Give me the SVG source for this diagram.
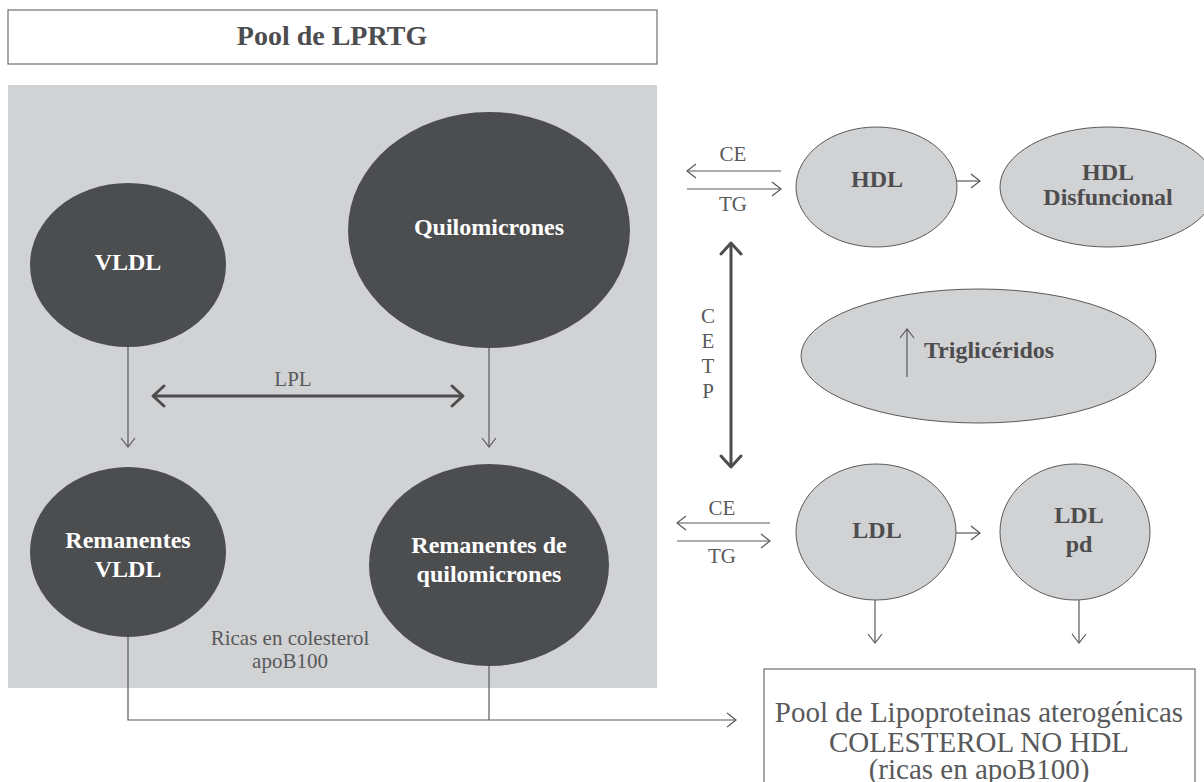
<svg xmlns="http://www.w3.org/2000/svg" width="1204" height="782" viewBox="0 0 1204 782">
<defs>
<style>
.lbl{font-family:"Liberation Serif","Times New Roman",serif;fill:#58595b;font-size:21px;text-anchor:middle}
.big{font-family:"Liberation Serif","Times New Roman",serif;fill:#58595b;font-size:29px;text-anchor:middle}
.b{font-family:"Liberation Serif","Times New Roman",serif;font-weight:bold;font-size:24px;text-anchor:middle;fill:#4d4d4f}
.w{fill:#ffffff}
.dark{fill:#4c4d4f}
.light{fill:#d1d2d4;stroke:#58595b;stroke-width:1}
.thin{stroke:#58595b;stroke-width:1.2;fill:none}
.thick{stroke:#4d4d4f;stroke-width:3;fill:none}
.box{fill:#ffffff;stroke:#6d6e70;stroke-width:1.2}
</style>
<marker id="ah" markerUnits="userSpaceOnUse" overflow="visible" orient="auto-start-reverse" markerWidth="20" markerHeight="20" refX="0" refY="0">
<path d="M-9,-7 L0,0 L-9,7" fill="none" stroke="#58595b" stroke-width="1.2"/>
</marker>
<marker id="ahb" markerUnits="userSpaceOnUse" overflow="visible" orient="auto-start-reverse" markerWidth="30" markerHeight="30" refX="0" refY="0">
<path d="M-11,-10 L0,0 L-11,10" fill="none" stroke="#4d4d4f" stroke-width="3" stroke-linecap="round" stroke-linejoin="round"/>
</marker>
</defs>
<rect x="0" y="0" width="1204" height="782" fill="#ffffff"/>

<g id="title">
<rect class="box" x="8" y="10" width="649" height="54"/>
<text class="b" x="332" y="45" style="font-size:28px">Pool de LPRTG</text>
</g>

<rect id="panel" x="8" y="85" width="649" height="603" fill="#d1d2d4"/>

<g id="vldl">
<ellipse class="dark" cx="128" cy="265" rx="98" ry="82"/>
<text class="b w" x="128" y="270">VLDL</text>
</g>
<g id="quilomicrones">
<ellipse class="dark" cx="489" cy="230" rx="141" ry="118"/>
<text class="b w" x="489" y="235">Quilomicrones</text>
</g>
<g id="rem-vldl">
<ellipse class="dark" cx="128" cy="552" rx="98" ry="85"/>
<text class="b w" x="128" y="548">Remanentes</text>
<text class="b w" x="128" y="577">VLDL</text>
</g>
<g id="rem-quilo">
<ellipse class="dark" cx="489" cy="565" rx="120" ry="101"/>
<text class="b w" x="489" y="553">Remanentes de</text>
<text class="b w" x="489" y="582">quilomicrones</text>
</g>
<g id="ricas">
<text class="lbl" x="290" y="645">Ricas en colesterol</text>
<text class="lbl" x="290" y="668">apoB100</text>
</g>

<g id="hdl">
<ellipse class="light" cx="876.5" cy="187" rx="80.5" ry="60"/>
<text class="b" x="877" y="187">HDL</text>
</g>
<g id="hdl-disf">
<ellipse class="light" cx="1108" cy="187" rx="108" ry="60"/>
<text class="b" x="1108" y="180">HDL</text>
<text class="b" x="1108" y="205">Disfuncional</text>
</g>
<g id="trig">
<ellipse class="light" cx="978.5" cy="356" rx="177.5" ry="67"/>
<text class="b" x="989" y="358">Triglicéridos</text>
</g>
<g id="ldl">
<ellipse class="light" cx="876" cy="532" rx="80" ry="68"/>
<text class="b" x="877" y="538">LDL</text>
</g>
<g id="ldl-pd">
<ellipse class="light" cx="1075" cy="532" rx="75" ry="68"/>
<text class="b" x="1079" y="523">LDL</text>
<text class="b" x="1079" y="552">pd</text>
</g>
<g id="pool-atero">
<rect class="box" x="764" y="669" width="431" height="140"/>
<text class="big" x="979" y="722">Pool de Lipoproteinas aterogénicas</text>
<text class="big" x="979" y="752">COLESTEROL NO HDL</text>
<text class="big" x="979" y="779">(ricas en apoB100)</text>
</g>

<g id="connectors">
<line class="thin" x1="128" y1="347" x2="128" y2="447" marker-end="url(#ah)"/>
<line class="thin" x1="489" y1="348" x2="489" y2="447" marker-end="url(#ah)"/>
<line class="thick" x1="153" y1="396" x2="463" y2="396" marker-start="url(#ahb)" marker-end="url(#ahb)"/>
<text class="lbl" x="293" y="386">LPL</text>
<path class="thin" d="M128,637 V720 H736" marker-end="url(#ah)"/>
<path class="thin" d="M489,666 V720"/>

<line class="thin" x1="781" y1="171" x2="687" y2="171" marker-end="url(#ah)"/>
<line class="thin" x1="687" y1="189" x2="781" y2="189" marker-end="url(#ah)"/>
<text class="lbl" x="733" y="161">CE</text>
<text class="lbl" x="733" y="211">TG</text>
<line class="thin" x1="957" y1="181" x2="980" y2="181" marker-end="url(#ah)"/>

<line class="thick" x1="731" y1="243" x2="731" y2="467" marker-start="url(#ahb)" marker-end="url(#ahb)"/>
<text class="lbl" x="708" y="323">C</text>
<text class="lbl" x="708" y="348">E</text>
<text class="lbl" x="708" y="373">T</text>
<text class="lbl" x="708" y="398">P</text>
<line class="thin" x1="907" y1="377" x2="907" y2="329" marker-end="url(#ah)"/>

<line class="thin" x1="770" y1="523" x2="677" y2="523" marker-end="url(#ah)"/>
<line class="thin" x1="677" y1="541" x2="770" y2="541" marker-end="url(#ah)"/>
<text class="lbl" x="722" y="515">CE</text>
<text class="lbl" x="722" y="563">TG</text>
<line class="thin" x1="956" y1="533" x2="980" y2="533" marker-end="url(#ah)"/>
<line class="thin" x1="875" y1="600" x2="875" y2="643" marker-end="url(#ah)"/>
<line class="thin" x1="1079" y1="600" x2="1079" y2="643" marker-end="url(#ah)"/>
</g>
</svg>
